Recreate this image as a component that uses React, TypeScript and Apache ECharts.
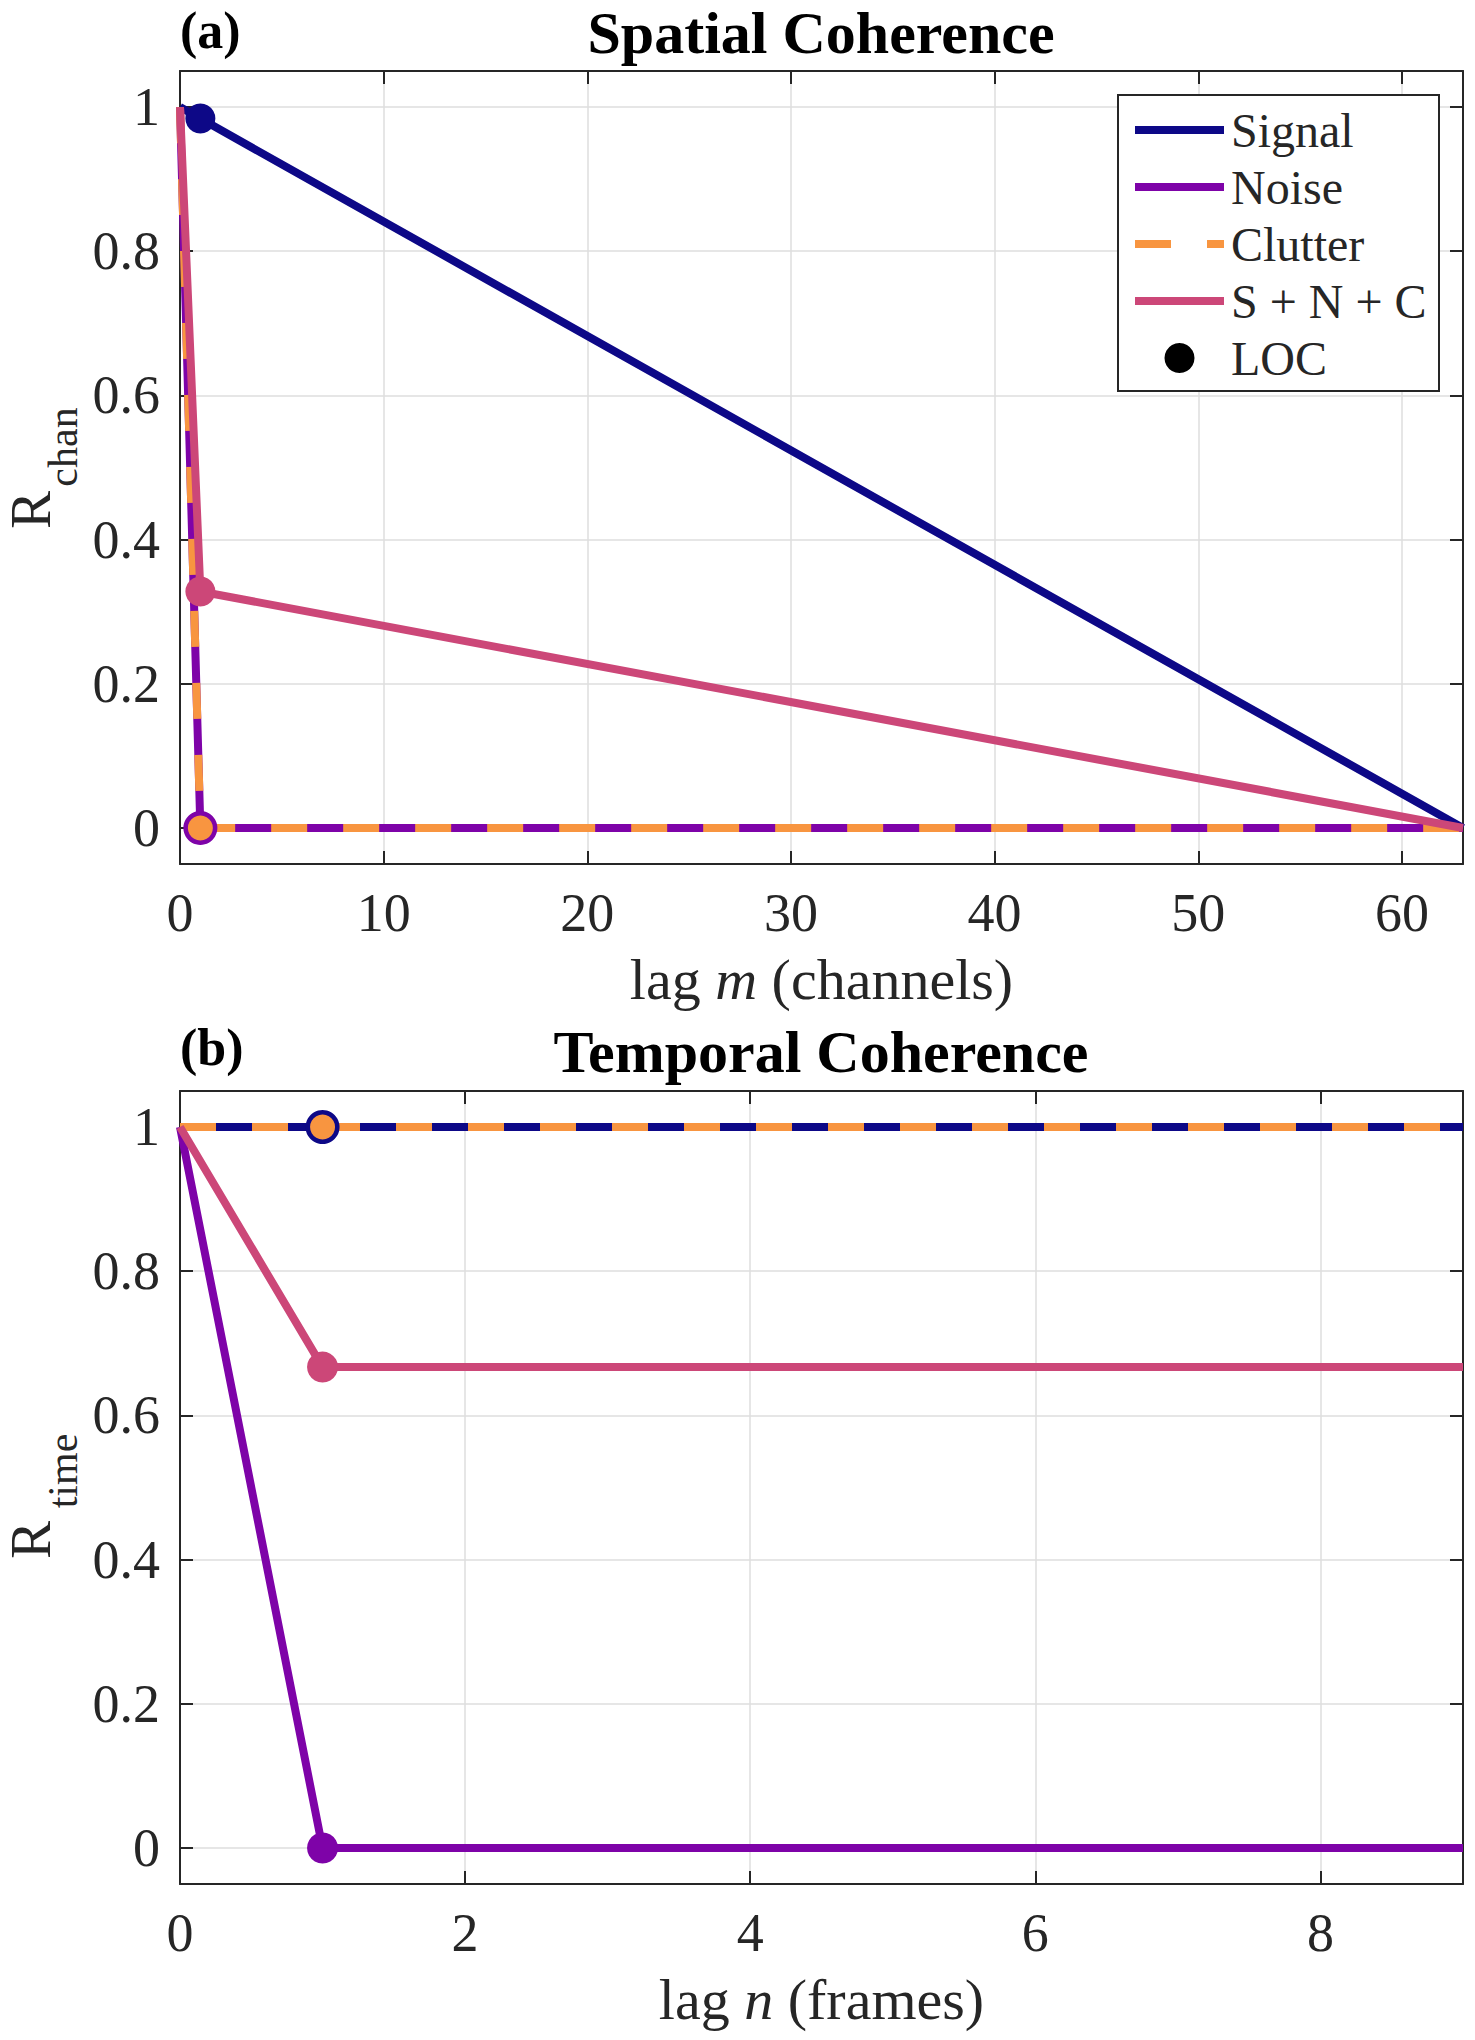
import React, { useEffect, useRef } from 'react';
import * as echarts from 'echarts';

// ---------- data ----------
// Panel (a): spatial coherence vs lag m (channels)
const lagA = [0, 1, 63];
const signalA = [1, 0.984, 0];
const noiseA = [1, 0, 0];
const clutterA = [1, 0, 0];
const sncA = [1, 0.328, 0];

// Panel (b): temporal coherence vs lag n (frames)
const lagB = [0, 1, 9];
const signalB = [1, 1, 1];
const noiseB = [1, 0, 0];
const clutterB = [1, 1, 1];
const sncB = [1, 0.667, 0.667];

const LOC_INDEX = 1; // lag-one coherence point

const legendNames = ['Signal', 'Noise', 'Clutter', 'S + N + C', 'LOC'];
const colors: Record<string, string> = {
  Signal: '#0d0887',
  Noise: '#7e03a8',
  Clutter: '#f89540',
  'S + N + C': '#cc4778',
};

const FONT = "'Times New Roman', 'Liberation Serif', serif";
const AX = '#262626';
const GRID_C = '#dedede';

function bottomX(gridIndex: number, max: number, step: number, name: string) {
  return {
    type: 'value',
    gridIndex,
    position: 'bottom',
    min: 0,
    max,
    minInterval: step,
    maxInterval: step,
    axisLine: { show: true, onZero: false, lineStyle: { color: AX, width: 2 } },
    axisTick: { show: true, inside: true, length: 13, lineStyle: { color: AX, width: 2 } },
    axisLabel: {
      show: true,
      margin: 22,
      fontSize: 54,
      fontFamily: FONT,
      color: AX,
      showMinLabel: true,
      showMaxLabel: false,
    },
    splitLine: { show: true, lineStyle: { color: GRID_C, width: 1.5 } },
    name,
    nameLocation: 'middle',
    nameGap: 86,
    nameTextStyle: {
      fontSize: 58,
      fontFamily: FONT,
      color: AX,
      rich: {
        n: { fontSize: 58, fontFamily: FONT, color: AX },
        i: { fontSize: 58, fontFamily: FONT, color: AX, fontStyle: 'italic' },
      },
    },
  };
}

function topX(gridIndex: number, max: number, step: number) {
  return {
    type: 'value',
    gridIndex,
    position: 'top',
    min: 0,
    max,
    minInterval: step,
    maxInterval: step,
    axisLine: { show: true, onZero: false, lineStyle: { color: AX, width: 2 } },
    axisTick: { show: true, inside: true, length: 13, lineStyle: { color: AX, width: 2 } },
    axisLabel: { show: false },
    splitLine: { show: false },
  };
}

function leftY(gridIndex: number) {
  return {
    type: 'value',
    gridIndex,
    position: 'left',
    min: -0.05,
    max: 1.05,
    minInterval: 0.2,
    maxInterval: 0.2,
    axisLine: { show: true, onZero: false, lineStyle: { color: AX, width: 2 } },
    axisTick: { show: true, inside: true, length: 13, lineStyle: { color: AX, width: 2 } },
    axisLabel: {
      show: true,
      margin: 20,
      fontSize: 54,
      fontFamily: FONT,
      color: AX,
      showMinLabel: false,
      showMaxLabel: false,
    },
    splitLine: { show: true, lineStyle: { color: GRID_C, width: 1.5 } },
  };
}

function rightY(gridIndex: number) {
  return {
    type: 'value',
    gridIndex,
    position: 'right',
    min: -0.05,
    max: 1.05,
    minInterval: 0.2,
    maxInterval: 0.2,
    axisLine: { show: true, onZero: false, lineStyle: { color: AX, width: 2 } },
    axisTick: { show: true, inside: true, length: 13, lineStyle: { color: AX, width: 2 } },
    axisLabel: { show: false },
    splitLine: { show: false },
  };
}

function lineSeries(name: string, lags: number[], vals: number[], xi: number, yi: number) {
  const color = colors[name];
  return {
    type: 'line',
    name,
    xAxisIndex: xi,
    yAxisIndex: yi,
    data: lags.map((l, i) => [l, vals[i]]),
    symbol: 'none',
    showSymbol: false,
    clip: false,
    animation: false,
    lineStyle: {
      color,
      width: 8,
      type: name === 'Clutter' ? [36, 36] : 'solid',
      join: 'round',
    },
    itemStyle: { color },
    emphasis: { disabled: true },
    silent: true,
    z: 2,
  };
}

function locSeries(name: string, lags: number[], vals: number[], xi: number, yi: number, size: number) {
  const color = colors[name];
  return {
    type: 'scatter',
    name,
    xAxisIndex: xi,
    yAxisIndex: yi,
    data: [[lags[LOC_INDEX], vals[LOC_INDEX]]],
    symbol: 'circle',
    symbolSize: size,
    clip: false,
    itemStyle: { color, opacity: 1 },
    emphasis: { disabled: true },
    silent: true,
    z: 3,
  };
}

function buildOption() {
  const series: any[] = [
    lineSeries('Signal', lagA, signalA, 0, 0),
    lineSeries('Noise', lagA, noiseA, 0, 0),
    lineSeries('Clutter', lagA, clutterA, 0, 0),
    lineSeries('S + N + C', lagA, sncA, 0, 0),
    lineSeries('Signal', lagB, signalB, 2, 2),
    lineSeries('Noise', lagB, noiseB, 2, 2),
    lineSeries('Clutter', lagB, clutterB, 2, 2),
    lineSeries('S + N + C', lagB, sncB, 2, 2),
    // LOC markers (a)
    locSeries('Signal', lagA, signalA, 0, 0, 30),
    locSeries('Noise', lagA, noiseA, 0, 0, 34),
    locSeries('Clutter', lagA, clutterA, 0, 0, 25),
    locSeries('S + N + C', lagA, sncA, 0, 0, 30),
    // LOC markers (b)
    locSeries('Signal', lagB, signalB, 2, 2, 34),
    locSeries('Clutter', lagB, clutterB, 2, 2, 25),
    locSeries('S + N + C', lagB, sncB, 2, 2, 31),
    locSeries('Noise', lagB, noiseB, 2, 2, 31),
    // legend-only entry for LOC
    {
      type: 'scatter',
      name: 'LOC',
      xAxisIndex: 0,
      yAxisIndex: 0,
      data: [],
      symbol: 'circle',
      symbolSize: 30,
      itemStyle: { color: '#000', opacity: 1 },
      silent: true,
    },
  ];

  const titleStyle = (text: string, x: number, y: number) => ({
    type: 'text',
    x,
    y,
    silent: true,
    style: {
      text,
      fontSize: 60,
      fontWeight: 'bold',
      fontFamily: FONT,
      fill: '#000',
      align: 'center',
      verticalAlign: 'middle',
    },
  });
  const panelTag = (text: string, y: number) => ({
    type: 'text',
    x: 180,
    y,
    silent: true,
    style: {
      text,
      fontSize: 52,
      fontWeight: 'bold',
      fontFamily: FONT,
      fill: '#000',
      align: 'left',
      verticalAlign: 'middle',
    },
  });
  const yLabel = (sub: string, rY: number, subY: number) => [
    {
      type: 'text',
      x: 30,
      y: rY,
      rotation: Math.PI / 2,
      silent: true,
      style: { text: 'R', fontSize: 57, fontFamily: FONT, fill: AX, align: 'center', verticalAlign: 'middle' },
    },
    {
      type: 'text',
      x: 63,
      y: subY,
      rotation: Math.PI / 2,
      silent: true,
      style: { text: sub, fontSize: 42, fontFamily: FONT, fill: AX, align: 'center', verticalAlign: 'middle' },
    },
  ];

  return {
    animation: false,
    backgroundColor: '#ffffff',
    grid: [
      { left: 180, top: 71, width: 1283, height: 793, containLabel: false },
      { left: 180, top: 1091, width: 1283, height: 793, containLabel: false },
    ],
    xAxis: [
      bottomX(0, 63, 10, '{n|lag }{i|m}{n| (channels)}'),
      topX(0, 63, 10),
      bottomX(1, 9, 2, '{n|lag }{i|n}{n| (frames)}'),
      topX(1, 9, 2),
    ],
    yAxis: [leftY(0), rightY(0), leftY(1), rightY(1)],
    legend: {
      orient: 'vertical',
      left: 1131,
      top: 106,
      padding: 0,
      itemWidth: 89,
      itemHeight: 30,
      itemGap: 9,
      selectedMode: false,
      z: 5,
      data: legendNames.map((n) =>
        n === 'LOC' ? { name: n } : { name: n, itemStyle: { opacity: 0 } }
      ),
      lineStyle: { width: 8 },
      textStyle: { fontSize: 48, fontFamily: FONT, color: AX, padding: [0, 0, 0, 2] },
    },
    graphic: [
      {
        type: 'rect',
        z: 4,
        silent: true,
        shape: { x: 1118, y: 95, width: 321, height: 296 },
        style: { fill: '#ffffff', stroke: AX, lineWidth: 2 },
      },
      titleStyle('Spatial Coherence', 821, 33),
      titleStyle('Temporal Coherence', 821, 1052),
      panelTag('(a)', 30),
      panelTag('(b)', 1047),
      ...yLabel('chan', 510, 447),
      ...yLabel('time', 1540, 1471),
    ],
    series,
  };
}

export default function App() {
  const ref = useRef<HTMLDivElement>(null);
  useEffect(() => {
    if (!ref.current) return;
    const chart = echarts.init(ref.current, null, { renderer: 'svg' });
    chart.setOption(buildOption() as any);
    return () => chart.dispose();
  }, []);
  return (
    <div
      ref={ref}
      style={{ position: 'absolute', left: 0, top: 0, width: 1475, height: 2040, background: '#fff' }}
    />
  );
}
